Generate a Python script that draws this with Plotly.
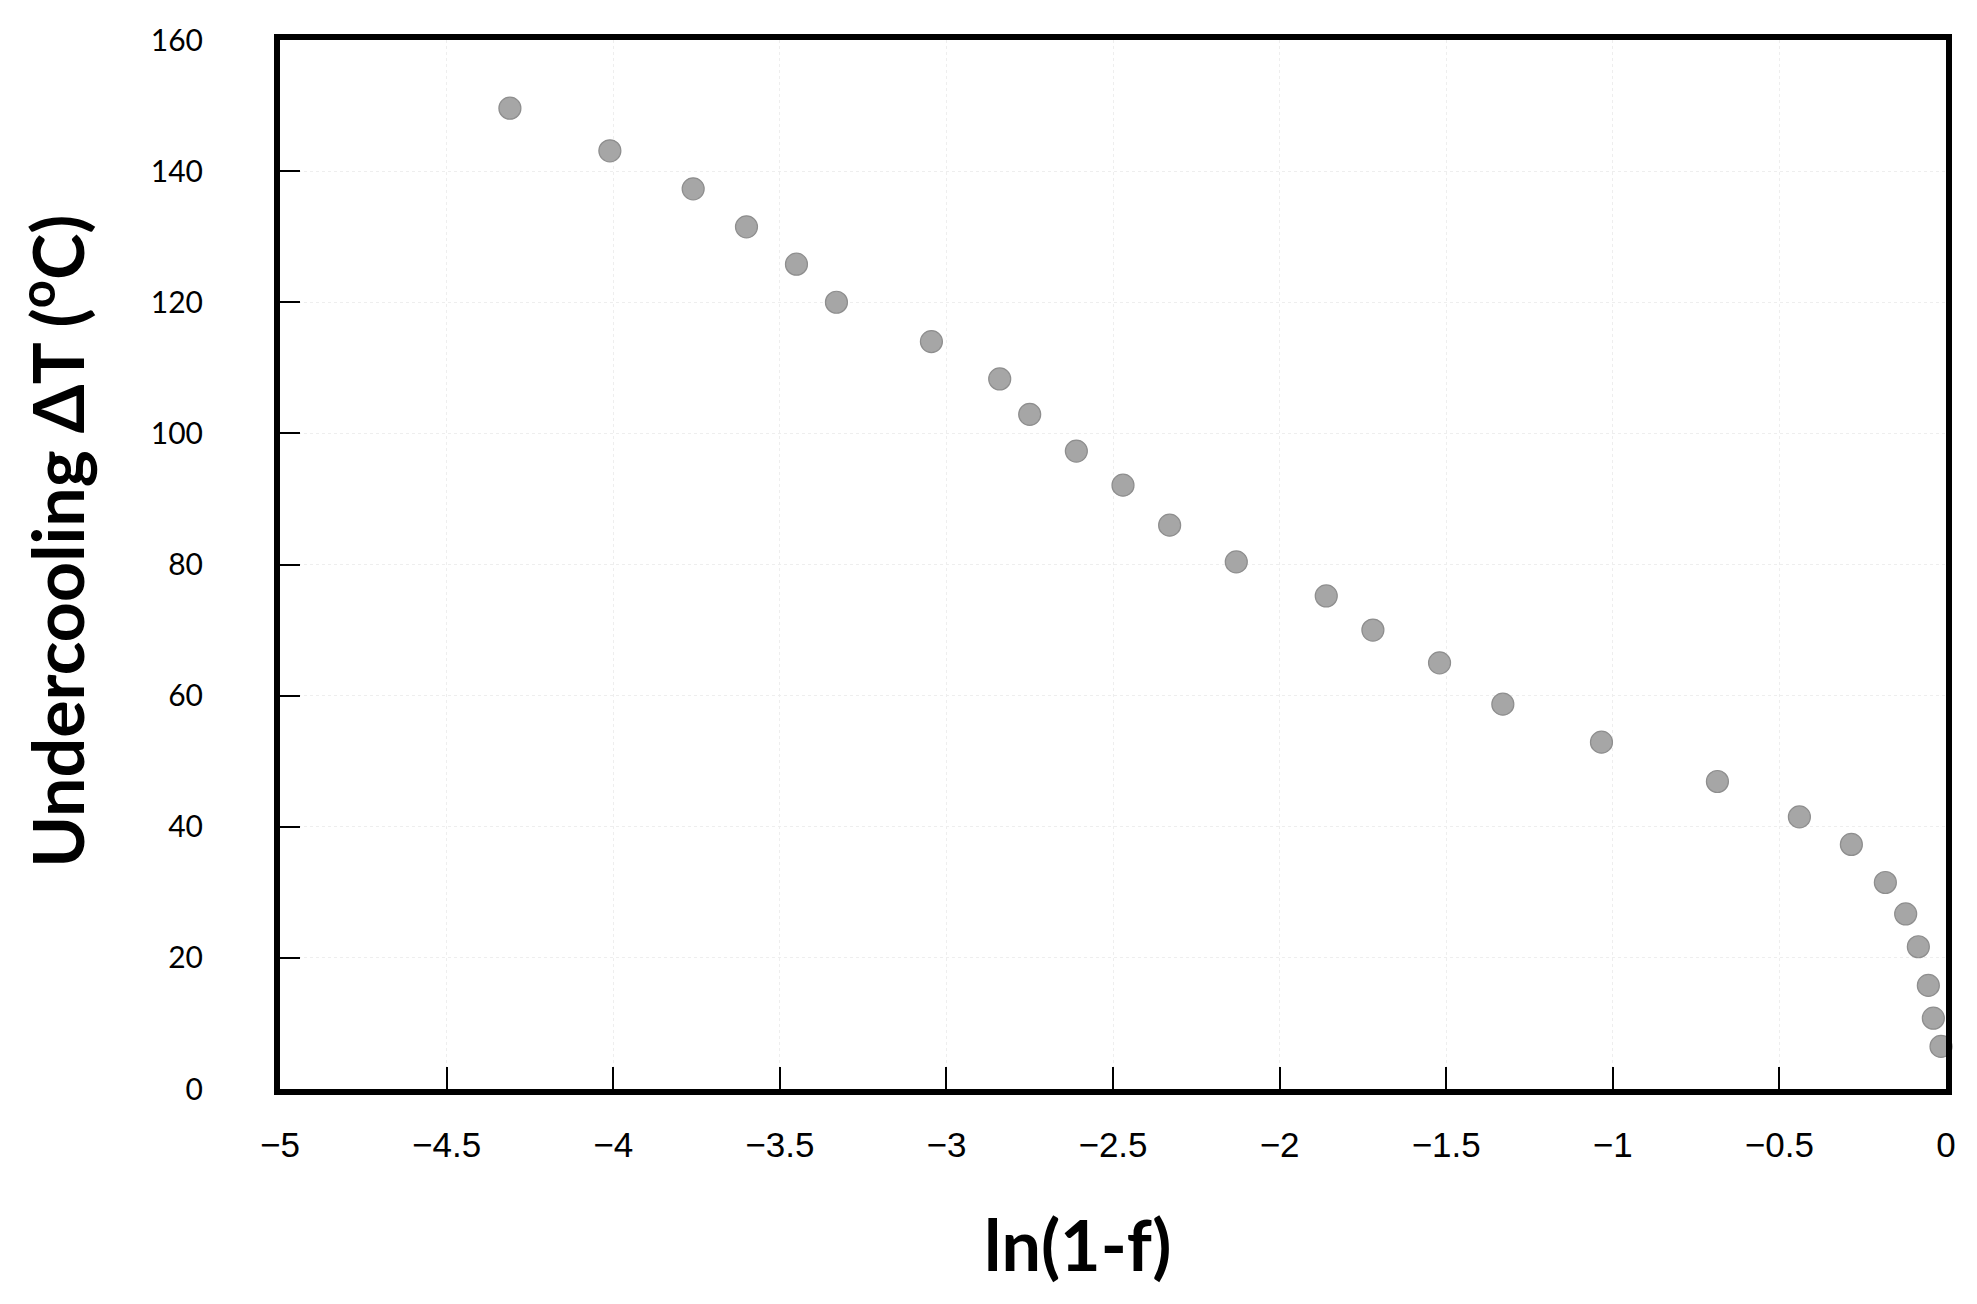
import plotly.graph_objects as go

# ln(1-f) vs undercooling
ln_one_minus_f = [
    -4.31, -4.01, -3.76, -3.60, -3.45, -3.33, -3.045, -2.84, -2.75, -2.61,
    -2.47, -2.33, -2.13, -1.86, -1.72, -1.52, -1.33, -1.034, -0.686, -0.44,
    -0.284, -0.182, -0.121, -0.083, -0.053, -0.038, -0.015,
]
undercooling = [
    149.6, 143.1, 137.3, 131.5, 125.8, 120.0, 114.0, 108.3, 102.9, 97.3,
    92.1, 86.0, 80.4, 75.2, 70.0, 65.0, 58.7, 52.9, 46.9, 41.5,
    37.3, 31.5, 26.7, 21.7, 15.8, 10.8, 6.5,
]

x_ticks = [-5, -4.5, -4, -3.5, -3, -2.5, -2, -1.5, -1, -0.5, 0]
y_ticks = [0, 20, 40, 60, 80, 100, 120, 140, 160]

x_title = "ln(1-f)"
y_title = "Undercooling \u0394T (<sup>o</sup>C)"

title_font = dict(family="Lato, sans-serif", size=70, color="black", weight="bold")

fig = go.Figure()

fig.add_trace(go.Scatter(
    x=ln_one_minus_f,
    y=undercooling,
    mode="markers",
    marker=dict(size=22, color="#a6a6a6", line=dict(width=1.2, color="#8e8e8e")),
    showlegend=False,
    cliponaxis=False,
))

# page body adds an 8px margin, so the figure is 8px smaller than the window
fig.update_layout(
    width=1969,
    height=1296,
    margin=dict(l=272, r=31, t=29, b=215),
    paper_bgcolor="white",
    plot_bgcolor="white",
    annotations=[
        dict(text=y_title, xref="paper", yref="paper", x=-0.136, y=0.522,
             xanchor="center", yanchor="middle", textangle=-90,
             showarrow=False, font=title_font),
        dict(text=x_title, xref="paper", yref="paper", x=0.479, y=-0.148,
             xanchor="center", yanchor="middle",
             showarrow=False, font=title_font),
    ],
)

axis_style = dict(
    ticks="inside",
    tickwidth=2,
    tickcolor="black",
    showline=True,
    linewidth=6,
    linecolor="black",
    mirror=True,
    showgrid=True,
    gridcolor="#eeeeee",
    griddash="dot",
    gridwidth=1,
    zeroline=False,
)

fig.update_xaxes(
    range=[-5, 0],
    tickvals=x_ticks,
    ticklen=22,
    ticklabelstandoff=20,
    tickfont=dict(family="Liberation Sans, Arial, sans-serif", size=35, color="black"),
    **axis_style,
)

fig.update_yaxes(
    range=[0, 160],
    tickvals=y_ticks,
    ticklen=20,
    ticklabelstandoff=65,
    tickfont=dict(family="Lato, sans-serif", size=30, color="black"),
    **axis_style,
)

fig.write_html("out.html")
